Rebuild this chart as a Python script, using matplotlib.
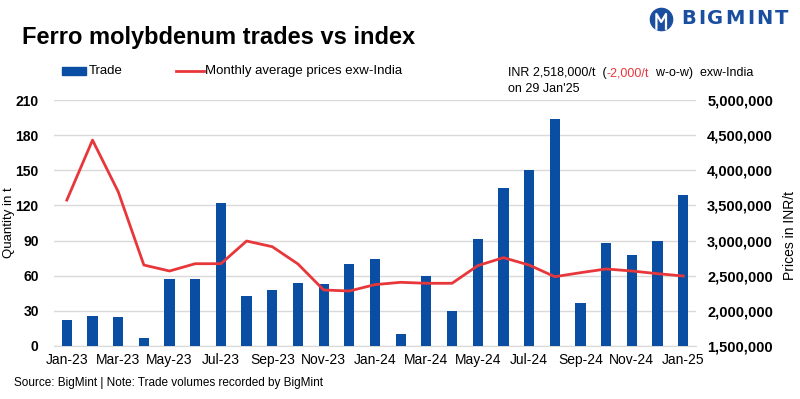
import matplotlib.pyplot as plt
from matplotlib.ticker import FuncFormatter
from matplotlib.patches import Rectangle
from matplotlib.lines import Line2D

months = ["Jan-23", "Feb-23", "Mar-23", "Apr-23", "May-23", "Jun-23", "Jul-23",
          "Aug-23", "Sep-23", "Oct-23", "Nov-23", "Dec-23", "Jan-24", "Feb-24",
          "Mar-24", "Apr-24", "May-24", "Jun-24", "Jul-24", "Aug-24", "Sep-24",
          "Oct-24", "Nov-24", "Dec-24", "Jan-25"]
trade = [22, 26, 25, 7, 57, 57, 122, 43, 48, 54, 53, 70, 74, 10,
         60, 30, 91, 135, 150, 194, 37, 88, 78, 90, 129]
price = [3577000, 4431000, 3696000, 2652000, 2567000, 2671000, 2671000,
         2994000, 2913000, 2667000, 2297000, 2282000, 2373000, 2406000,
         2392000, 2392000, 2643000, 2757000, 2652000, 2486000, 2543000,
         2596000, 2567000, 2529000, 2496000]

bar_color = "#0a4ea3"
line_color = "#e8373a"
logo_color = "#1a4fa0"
plt.rcParams['font.family'] = ["Liberation Sans", "DejaVu Sans"]

fig = plt.figure(figsize=(8, 3.99), dpi=100)
ax = fig.add_axes([0.0675, 0.133, 0.8025, 0.616])
ax2 = ax.twinx()

x = list(range(len(months)))
ax.bar(x, trade, width=0.4, color=bar_color, zorder=3)
ax2.plot(x, price, color=line_color, linewidth=2, zorder=4)

ax.set_xlim(-0.5, len(months) - 0.5)
ax.set_ylim(0, 210)
ax.set_yticks(range(0, 211, 30))
ax2.set_ylim(1500000, 5000000)
ax2.set_yticks(range(1500000, 5000001, 500000))
ax2.yaxis.set_major_formatter(FuncFormatter(lambda v, p: f"{int(v):,}"))

ax.set_xticks(x[::2])
ax.set_xticklabels(months[::2], fontsize=10)

ax.grid(axis='y', color="#d9d9d9", linewidth=1, zorder=0)
ax.set_axisbelow(True)
ax2.set_zorder(ax.get_zorder() + 1)
ax2.patch.set_visible(False)

for a in (ax, ax2):
    for s in a.spines.values():
        s.set_visible(False)
    a.tick_params(length=0)
ax.spines['bottom'].set_visible(True)
ax.spines['bottom'].set_color("#d9d9d9")

for lab in ax.get_yticklabels():
    lab.set_fontweight('bold')
    lab.set_fontsize(10)
for lab in ax2.get_yticklabels():
    lab.set_fontweight('bold')
    lab.set_fontsize(10.5)
ax.tick_params(axis='y', pad=11)
ax.tick_params(axis='x', pad=5)
ax2.tick_params(axis='y', pad=8)

ax.set_ylabel("Quantity in t", fontsize=9.5)
ax.yaxis.set_label_coords(-0.061, 0.5)
ax2.set_ylabel("Prices in INR/t", fontsize=10)
ax2.yaxis.set_label_coords(1.135, 0.45)

fig.text(0.028, 0.905, "Ferro molybdenum trades vs index", fontsize=17,
         fontweight='bold', va='center')

# legend
fig.patches.append(Rectangle((0.0775, 0.812), 0.03, 0.02, transform=fig.transFigure,
                             color=bar_color))
fig.text(0.111, 0.822, "Trade", fontsize=9.5, va='center')
fig.lines.append(Line2D([0.22, 0.255], [0.822, 0.822], transform=fig.transFigure,
                        color=line_color, linewidth=2))
fig.text(0.256, 0.822, "Monthly average prices exw-India", fontsize=9.5, va='center')

# annotation
y_ann = 0.817
t1 = fig.text(0.635, y_ann, "INR 2,518,000/t  (", fontsize=9, va='center')
fig.canvas.draw()
bb = t1.get_window_extent().transformed(fig.transFigure.inverted())
t2 = fig.text(bb.x1, y_ann, "-2,000/t", fontsize=9, va='center', color=line_color)
fig.canvas.draw()
bb = t2.get_window_extent().transformed(fig.transFigure.inverted())
fig.text(bb.x1, y_ann, "  w-o-w)  exw-India", fontsize=9, va='center')
fig.text(0.635, y_ann - 0.04, "on 29 Jan'25", fontsize=9, va='center')

# logo: blue disc with a simple white figure mark
fig.lines.append(Line2D([0.8265], [0.952], transform=fig.transFigure, marker='o',
                        markersize=16, color=logo_color))
fig.lines.append(Line2D([0.8205, 0.8205, 0.8265, 0.8325, 0.8325],
                        [0.928, 0.965, 0.945, 0.965, 0.928],
                        transform=fig.transFigure, color="white", linewidth=1.6))
xpos = 0.851
for ch in "BIGMINT":
    t = fig.text(xpos, 0.953, ch, fontsize=14, fontweight='bold', color=logo_color,
                 va='center', family="DejaVu Sans")
    fig.canvas.draw()
    bb = t.get_window_extent().transformed(fig.transFigure.inverted())
    xpos = bb.x1 + 0.0028

fig.text(0.018, 0.04, "Source: BigMint | Note: Trade volumes recorded by BigMint",
         fontsize=8.5, va='center')

plt.savefig("out.png", dpi=100)
